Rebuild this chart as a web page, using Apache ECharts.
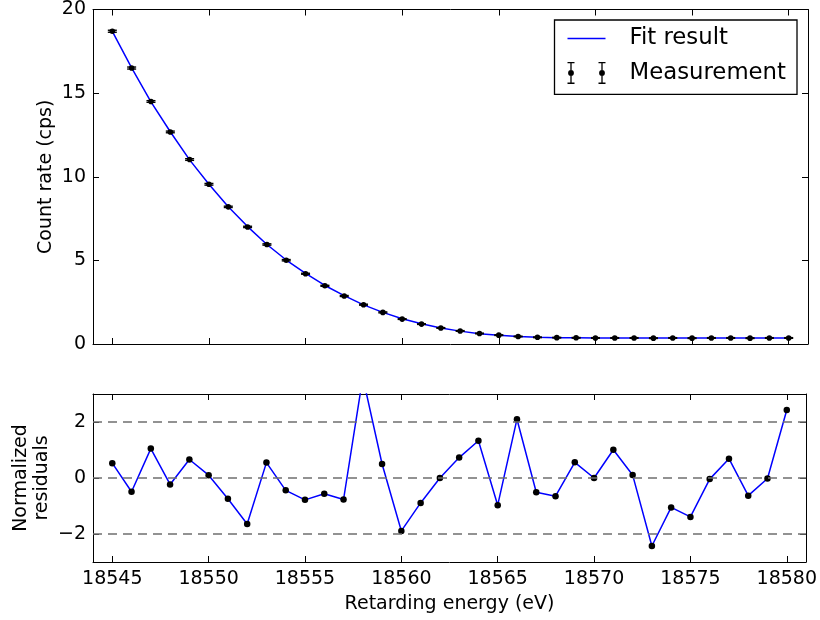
<!DOCTYPE html>
<html><head><meta charset="utf-8">
<script src="https://cdn.jsdelivr.net/npm/echarts@6/dist/echarts.min.js"></script>
<style>html,body{margin:0;padding:0;background:#fff}#c{width:820px;height:620px}</style>
</head><body><div id="c"></div>
<script>
const energies = [18545,18546,18547,18548,18549,18550,18551,18552,18553,18554,18555,18556,18557,18558,18559,18560,18561,18562,
  18563,18564,18565,18566,18567,18568,18569,18570,18571,18572,18573,18574,18575,18576,18577,18578,18579,18580];
const countRate = [18.70,16.50,14.50,12.68,11.03,9.55,8.20,7.00,5.95,5.01,4.20,3.48,2.87,2.35,1.89,1.49,1.19,0.96,
  0.78,0.63,0.53,0.45,0.40,0.38,0.37,0.36,0.36,0.36,0.35,0.36,0.35,0.36,0.36,0.35,0.36,0.36];
const countErr = [0.06,0.06,0.05,0.05,0.05,0.05,0.04,0.04,0.04,0.04,0.03,0.03,0.03,0.03,0.03,0.02,0.02,0.02,
  0.02,0.02,0.02,0.02,0.02,0.02,0.02,0.02,0.02,0.02,0.02,0.02,0.02,0.02,0.02,0.02,0.02,0.02];
const fitRate = [18.69,16.51,14.48,12.69,11.01,9.55,8.21,7.02,5.95,5.02,4.22,3.50,2.89,2.34,1.89,1.51,1.21,0.96,
  0.77,0.61,0.53,0.45,0.40,0.38,0.37,0.36,0.36,0.36,0.36,0.36,0.36,0.36,0.36,0.36,0.36,0.36];
const residuals = [0.53,-0.49,1.05,-0.23,0.66,0.10,-0.74,-1.64,0.55,-0.44,-0.78,-0.56,-0.77,3.6,0.50,-1.89,-0.89,0.00,
  0.73,1.33,-0.97,2.10,-0.51,-0.65,0.56,0.00,1.01,0.11,-2.43,-1.05,-1.39,-0.04,0.69,-0.63,-0.02,2.43];
const xTicks = [18545,18550,18555,18560,18565,18570,18575,18580];
const residualTicks = [-2,0,2];
const residualRefLines = [-2,0,2];

const FONT = 'DejaVu Sans';
const chart = echarts.init(document.getElementById('c'), null, {renderer:'canvas'});

function xAx(grid, pos, labels, extra) {
  return Object.assign({
    type:'value', gridIndex:grid, position:pos, min:18544, max:18581,
    axisLine:{show:true, onZero:false, lineStyle:{color:'#000', width:1}},
    axisTick:{show:true, inside:true, length:6, customValues:xTicks, lineStyle:{color:'#000', width:1}},
    axisLabel:{show:labels, customValues:xTicks, color:'#000', fontFamily:FONT, fontSize:19, margin:8,
      formatter:function(v){return String(v);}},
    splitLine:{show:false}, nameMoveOverlap:false
  }, extra||{});
}
function yAx(grid, pos, labels, range, extra) {
  return Object.assign({
    type:'value', gridIndex:grid, position:pos, min:range[0], max:range[1],
    axisLine:{show:true, onZero:false, lineStyle:{color:'#000', width:1}},
    axisTick:{show:true, inside:true, length:6, lineStyle:{color:'#000', width:1}},
    axisLabel:{show:labels, color:'#000', fontFamily:FONT, fontSize:19, margin:7},
    splitLine:{show:false}, nameMoveOverlap:false
  }, extra||{});
}

const fitIcon = 'path://M0,0 H38 V1.5 H0 Z';
const measIcon = 'path://M0,0 H7 V1.3 H0 Z M2.85,1.3 H4.15 V8.3 H2.85 Z M2.85,13.7 H4.15 V20.7 H2.85 Z M0,20.7 H7 V22 H0 Z M0.6,11 A2.9,2.9 0 1 1 6.4,11 A2.9,2.9 0 1 1 0.6,11 Z ' +
  'M31,0 H38 V1.3 H31 Z M33.85,1.3 H35.15 V8.3 H33.85 Z M33.85,13.7 H35.15 V20.7 H33.85 Z M31,20.7 H38 V22 H31 Z M31.6,11 A2.9,2.9 0 1 1 37.4,11 A2.9,2.9 0 1 1 31.6,11 Z';

function renderErr(params, api) {
  const x = api.value(0), y = api.value(1), e = api.value(2);
  const p = api.coord([x, y]);
  const t = api.coord([x, y + e]);
  const b = api.coord([x, y - e]);
  const hw = 4.5;
  const st = {stroke:'#000', lineWidth:1.4, fill:null};
  return {type:'group', children:[
    {type:'line', shape:{x1:p[0], y1:t[1], x2:p[0], y2:b[1]}, style:st},
    {type:'line', shape:{x1:p[0]-hw, y1:t[1], x2:p[0]+hw, y2:t[1]}, style:st},
    {type:'line', shape:{x1:p[0]-hw, y1:b[1], x2:p[0]+hw, y2:b[1]}, style:st},
    {type:'circle', shape:{cx:p[0], cy:p[1], r:2.8}, style:{fill:'#000'}}
  ]};
}

chart.setOption({
  animation:false,
  textStyle:{fontFamily:FONT},
  grid:[
    {left:93, right:12, top:9, height:335},
    {left:93, right:12, top:394, height:168}
  ],
  legend:{
    left:554.5, top:20, orient:'vertical',
    itemWidth:38, itemHeight:22, itemGap:11.4,
    padding:[7,11,10,13],
    borderColor:'#000', borderWidth:1.3, backgroundColor:'#fff',
    symbolKeepAspect:true,
    textStyle:{fontFamily:FONT, fontSize:22.8, color:'#000', lineHeight:22, padding:[0,0,0,19]},
    data:[{name:'Fit result', icon:fitIcon, itemStyle:{color:'#0000ff'}}, {name:'Measurement', icon:measIcon, itemStyle:{color:'#000'}}]
  },
  xAxis:[
    xAx(0,'bottom',false),
    xAx(0,'top',false),
    xAx(1,'bottom',true,{name:'Retarding energy (eV)', nameLocation:'middle', nameGap:33,
      nameTextStyle:{fontFamily:FONT, fontSize:19, color:'#000'}}),
    xAx(1,'top',false)
  ],
  yAxis:[
    yAx(0,'left',true,[0,20],{interval:5, name:'Count rate (cps)', nameLocation:'middle', nameGap:37,
      nameTextStyle:{fontFamily:FONT, fontSize:19, color:'#000'}}),
    yAx(0,'right',false,[0,20],{interval:5}),
    (function(){const a=yAx(1,'left',true,[-3,3],{name:'Normalized\nresiduals', nameLocation:'middle', nameGap:40.5,
      nameTextStyle:{fontFamily:FONT, fontSize:19, color:'#000', lineHeight:21}});
      a.axisTick.customValues=residualTicks; a.axisLabel.customValues=residualTicks;
      a.axisLabel.formatter=function(v){return String(v).replace('-','\u2212');}; return a;})(),
    (function(){const a=yAx(1,'right',false,[-3,3]); a.axisTick.customValues=residualTicks; return a;})()
  ],
  series:[
    {
      name:'Fit result', type:'line', xAxisIndex:0, yAxisIndex:0,
      data:energies.map((e,i)=>[e, fitRate[i]]),
      symbol:'none', color:'#0000ff', lineStyle:{color:'#0000ff', width:1.5}, z:2
    },
    {
      name:'Measurement', type:'custom', xAxisIndex:0, yAxisIndex:0,
      data:energies.map((e,i)=>[e, countRate[i], countErr[i]]),
      encode:{x:0, y:1}, renderItem:renderErr, itemStyle:{color:'#000'}, z:3
    },
    {
      name:'refLines', type:'line', xAxisIndex:2, yAxisIndex:2, data:[], z:1, silent:true,
      markLine:{silent:true, symbol:'none', label:{show:false},
        lineStyle:{color:'#6f6f6f', width:1.5, type:[9,6]},
        data:residualRefLines.map(v=>({yAxis:v}))}
    },
    {
      name:'Residuals', type:'line', xAxisIndex:2, yAxisIndex:2,
      data:energies.map((e,i)=>[e, residuals[i]]),
      symbol:'circle', symbolSize:6.5, showAllSymbol:true, clip:true,
      color:'#0000ff', lineStyle:{color:'#0000ff', width:1.5}, itemStyle:{color:'#000'}, z:2
    }
  ]
});
</script></body></html>
